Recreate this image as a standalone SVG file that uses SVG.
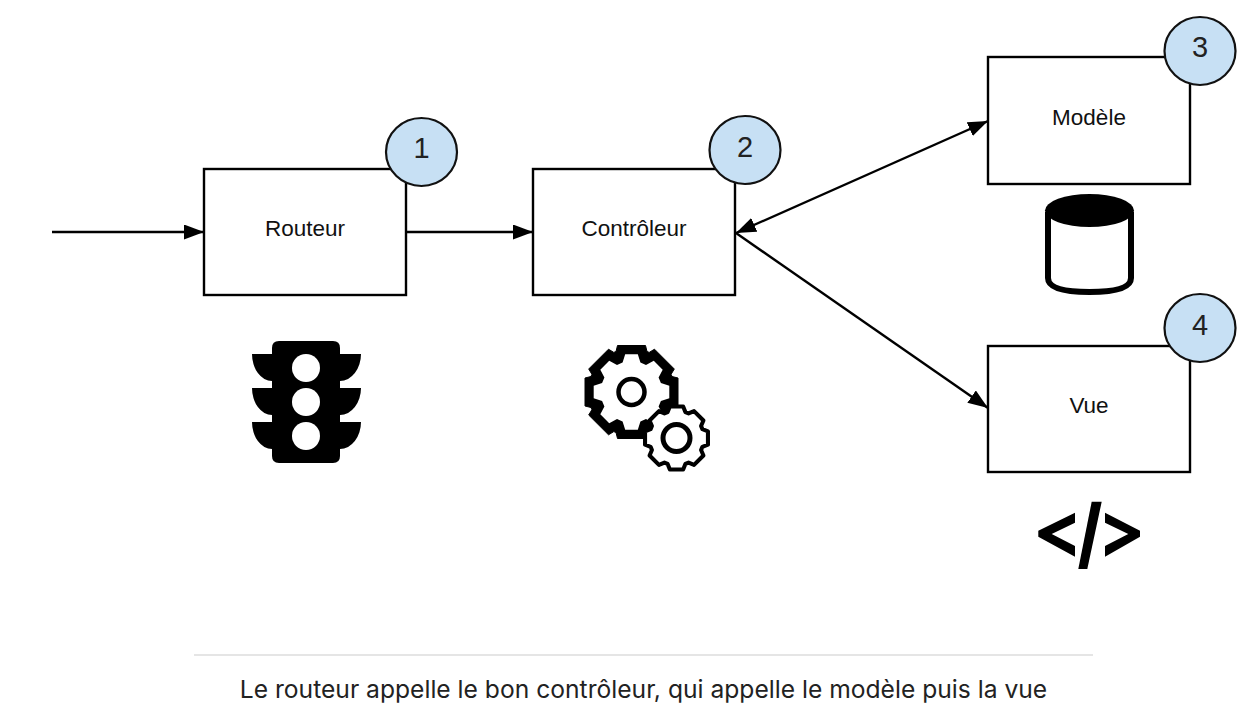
<svg xmlns="http://www.w3.org/2000/svg" width="1250" height="718" viewBox="0 0 1250 718">
<style>
.box{fill:#fff;stroke:#000;stroke-width:2.4}
.badge{fill:#c7e0f4;stroke:#111;stroke-width:2.2}
.lbl{font-family:"Liberation Sans",Arial,sans-serif;font-size:22.5px;fill:#111;text-anchor:middle}
.num{font-family:"Liberation Sans",Arial,sans-serif;font-size:29px;fill:#222;text-anchor:middle}
.conn{fill:none;stroke:#000;stroke-width:2.4}
</style>
<defs>
<marker id="arrow" viewBox="0 0 20 15" refX="20" refY="7.5" markerWidth="20" markerHeight="15" markerUnits="userSpaceOnUse" orient="auto-start-reverse"><path d="M0 0L20 7.5L0 15Z" fill="#000"/></marker>
<polygon id="gear" points="-12,-35 -9,-42.5 9,-42.5 12,-35 16.3,-33.2 23.7,-36.4 36.4,-23.7 33.2,-16.3 35,-12 42.5,-9 42.5,9 35,12 33.2,16.3 36.4,23.7 23.7,36.4 16.3,33.2 12,35 9,42.5 -9,42.5 -12,35 -16.3,33.2 -23.7,36.4 -36.4,23.7 -33.2,16.3 -35,12 -42.5,9 -42.5,-9 -35,-12 -33.2,-16.3 -36.4,-23.7 -23.7,-36.4 -16.3,-33.2"/>
</defs>
<rect width="1250" height="718" fill="#fff"/>
<g id="connectors">
<path class="conn" d="M52 232H204" marker-end="url(#arrow)"/>
<path class="conn" d="M406 232H533" marker-end="url(#arrow)"/>
<path class="conn" d="M736 233L988 121" marker-start="url(#arrow)" marker-end="url(#arrow)"/>
<path class="conn" d="M736 233L988 408" marker-end="url(#arrow)"/>
</g>
<g id="routeur">
<rect class="box" x="204" y="169" width="202" height="126"/>
<text class="lbl" x="305" y="236">Routeur</text>
<ellipse class="badge" cx="421.5" cy="152" rx="35.5" ry="34"/>
<text class="num" x="421.5" y="158">1</text>
<g id="icon-traffic-light">
<path d="M279 341H333Q340 341 340 348V354H361A21 27 0 0 1 340 381V388H361A21 27 0 0 1 340 415V422H361A21 27 0 0 1 340 449V456Q340 463 333 463H279Q272 463 272 456V449A20 27 0 0 1 252 422H272V415A20 27 0 0 1 252 388H272V381A20 27 0 0 1 252 354H272V348Q272 341 279 341Z" fill="#000"/>
<circle cx="306" cy="368" r="14" fill="#fff"/>
<circle cx="306" cy="402" r="14" fill="#fff"/>
<circle cx="306" cy="436" r="14" fill="#fff"/>
</g>
</g>
<g id="controleur">
<rect class="box" x="533" y="169" width="202" height="126"/>
<text class="lbl" x="634" y="236">Contrôleur</text>
<ellipse class="badge" cx="745" cy="150" rx="35.5" ry="34"/>
<text class="num" x="745" y="157">2</text>
<g id="icon-gears">
<polygon transform="translate(631.5 392)" fill="#000" stroke="#000" stroke-width="1" stroke-linejoin="round" points="-15.5,-40.5 -14,-46.5 14,-46.5 15.5,-40.5 17.7,-39.6 23,-42.8 42.8,-23 39.6,-17.7 40.5,-15.5 46.5,-14 46.5,14 40.5,15.5 39.6,17.7 42.8,23 23,42.8 17.7,39.6 15.5,40.5 14,46.5 -14,46.5 -15.5,40.5 -17.7,39.6 -23,42.8 -42.8,23 -39.6,17.7 -40.5,15.5 -46.5,14 -46.5,-14 -40.5,-15.5 -39.6,-17.7 -42.8,-23 -23,-42.8 -17.7,-39.6"/>
<polygon transform="translate(631.5 392) scale(1.05)" fill="#fff" points="-8.5,-28 -6,-36 6,-36 8.5,-28 13.8,-25.8 21.2,-29.7 29.7,-21.2 25.8,-13.8 28,-8.5 36,-6 36,6 28,8.5 25.8,13.8 29.7,21.2 21.2,29.7 13.8,25.8 8.5,28 6,36 -6,36 -8.5,28 -13.8,25.8 -21.2,29.7 -29.7,21.2 -25.8,13.8 -28,8.5 -36,6 -36,-6 -28,-8.5 -25.8,-13.8 -29.7,-21.2 -21.2,-29.7 -13.8,-25.8"/>
<circle cx="631.5" cy="392" r="13" fill="#fff" stroke="#000" stroke-width="4.5"/>
<use href="#gear" transform="translate(676.5 438) scale(.74)" fill="#fff" stroke="#000" stroke-width="5.5" stroke-linejoin="round"/>
<circle cx="676.5" cy="438" r="13.5" fill="#fff" stroke="#000" stroke-width="5"/>
</g>
</g>
<g id="modele">
<rect class="box" x="988" y="57" width="202" height="127"/>
<text class="lbl" x="1089" y="125">Modèle</text>
<ellipse class="badge" cx="1200" cy="51" rx="35.5" ry="34"/>
<text class="num" x="1200" y="57">3</text>
<g id="icon-database">
<path d="M1048 212V278Q1048 292 1089.5 292Q1131 292 1131 278V212" fill="#fff" stroke="#000" stroke-width="6"/>
<ellipse cx="1089.5" cy="210.5" rx="44.5" ry="16.5" fill="#000"/>
</g>
</g>
<g id="vue">
<rect class="box" x="988" y="346" width="202" height="126"/>
<text class="lbl" x="1089" y="413">Vue</text>
<ellipse class="badge" cx="1200" cy="328" rx="35.5" ry="34"/>
<text class="num" x="1200" y="335">4</text>
<g id="icon-code" fill="#000">
<polygon points="1075,512.7 1038.3,530.7 1038.3,536.7 1075,556.7 1075,546 1051.7,534 1075,522.7"/>
<polygon points="1105,512.7 1140,530.7 1140,536.7 1105,556.7 1105,546 1128.3,534 1105,522.7"/>
<polygon points="1091.7,501.7 1101.7,501.7 1087.3,569 1078.3,569"/>
</g>
</g>
<g id="caption">
<line x1="194" y1="655" x2="1093" y2="655" stroke="#e5e5e5" stroke-width="2"/>
<text x="643.5" y="698" text-anchor="middle" font-family="Inter,'Open Sans',sans-serif" font-size="24.63" fill="#222">Le routeur appelle le bon contrôleur, qui appelle le modèle puis la vue</text>
</g>
</svg>
